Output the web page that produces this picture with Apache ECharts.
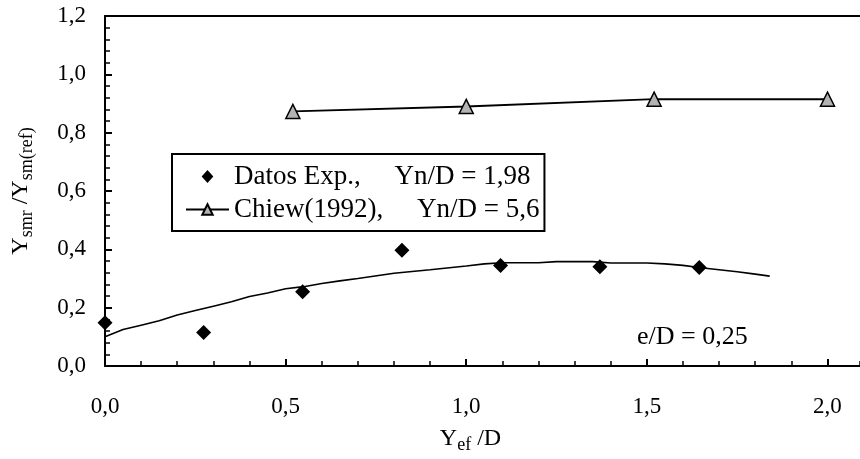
<!DOCTYPE html>
<html>
<head>
<meta charset="utf-8">
<script src="https://cdn.jsdelivr.net/npm/echarts@6/dist/echarts.min.js"></script>
<style>
  html, body { margin: 0; padding: 0; background: #fff; }
  #chart { width: 860px; height: 459px; }
</style>
</head>
<body>
<div id="chart"></div>
<script>
// datos experimentales (rombos)
const expX = [0, 0.273, 0.547, 0.822, 1.095, 1.370, 1.645];
const expY = [0.148, 0.115, 0.255, 0.397, 0.345, 0.340, 0.338];
// Chiew (1992) (triangulos)
const chiewX = [0.52, 1.0, 1.52, 2.0];
const chiewY = [0.873, 0.89, 0.915, 0.915];
// curva de ajuste
const curveX = [0, 0.05, 0.1, 0.15, 0.2, 0.25, 0.3, 0.35, 0.4, 0.45, 0.5, 0.55, 0.6, 0.65, 0.7,
  0.8, 0.9, 1.0, 1.05, 1.1, 1.2, 1.25, 1.3, 1.35, 1.4, 1.5, 1.55, 1.6, 1.65, 1.7, 1.75, 1.8, 1.84];
const curveY = [0.10, 0.125, 0.14, 0.155, 0.175, 0.19, 0.205, 0.22, 0.238, 0.25, 0.265, 0.272, 0.283, 0.292, 0.30,
  0.318, 0.33, 0.343, 0.35, 0.354, 0.354, 0.358, 0.358, 0.358, 0.353, 0.353, 0.35, 0.345, 0.337, 0.33, 0.323, 0.315, 0.308];
const legendNames = ['Datos Exp.,     Yn/D = 1,98', 'Chiew(1992),     Yn/D = 5,6'];

const xMax = 2.09;
const font = "'Liberation Serif', 'Times New Roman', serif";
const comma = (v) => v.toFixed(1).replace('.', ',');
const zip = (xs, ys) => xs.map((x, i) => [x, ys[i]]);
// rombo pequeño centrado en un icono ancho (para que no se estire en la leyenda)
const diamondIcon = 'path://M0,5L0.01,5ZM16,0L20.5,5L16,10L11.5,5ZM32,5L31.99,5Z';

const chart = echarts.init(document.getElementById('chart'));
chart.setOption({
  animation: false,
  backgroundColor: '#fff',
  textStyle: { fontFamily: font, color: '#000' },
  grid: { left: 105, top: 16, right: -3, bottom: 90 },
  legend: {
    orient: 'vertical',
    left: 172,
    top: 154,
    padding: [9, 5, 8, 13],
    itemGap: 6,
    itemWidth: 43,
    itemHeight: 13,
    borderColor: '#000',
    borderWidth: 2,
    textStyle: { fontFamily: font, fontSize: 27, color: '#000' },
    data: [{ name: legendNames[0], icon: diamondIcon }, { name: legendNames[1] }]
  },
  xAxis: [
    {
      type: 'value', position: 'bottom', min: 0, max: xMax, interval: 0.5,
      name: 'Y{s|ef} /D', nameLocation: 'middle', nameGap: 58,
      nameTextStyle: {
        fontFamily: font, fontSize: 24, color: '#000', padding: [0, 24, 0, 0],
        rich: { s: { fontFamily: font, fontSize: 18, color: '#000', padding: [12, 0, 0, 0] } }
      },
      axisLine: { lineStyle: { color: '#000', width: 2 } },
      axisTick: { inside: true, length: 7, lineStyle: { color: '#000', width: 2 } },
      axisLabel: { fontSize: 23, color: '#000', margin: 29, showMaxLabel: false, formatter: comma },
      splitLine: { show: false }
    },
    {
      type: 'value', position: 'bottom', min: 0, max: xMax, interval: 0.1,
      axisLine: { show: false },
      axisTick: { inside: true, length: 5, lineStyle: { color: '#000', width: 1.5 } },
      axisLabel: { show: false },
      splitLine: { show: false }
    },
    {
      type: 'value', position: 'top', min: 0, max: xMax,
      axisLine: { lineStyle: { color: '#000', width: 2 } },
      axisTick: { show: false },
      axisLabel: { show: false },
      splitLine: { show: false }
    }
  ],
  yAxis: {
    type: 'value', min: 0, max: 1.2, interval: 0.2,
    name: 'Y{s|smr} /Y{s|sm(ref)}', nameLocation: 'middle', nameGap: 69, nameRotate: 90,
    nameTextStyle: {
      fontFamily: font, fontSize: 24, color: '#000',
      rich: { s: { fontFamily: font, fontSize: 18, color: '#000', padding: [12, 0, 0, 0] } }
    },
    axisLine: { show: true, lineStyle: { color: '#000', width: 2 } },
    axisTick: { inside: true, length: 7, lineStyle: { color: '#000', width: 2 } },
    minorTick: { show: true, splitNumber: 5, length: 5, lineStyle: { color: '#000', width: 1.5 } },
    axisLabel: { fontSize: 23, color: '#000', margin: 19, formatter: comma },
    splitLine: { show: false }
  },
  graphic: [
    {
      type: 'text', left: 637, top: 324,
      style: { text: 'e/D = 0,25', font: '26px ' + font, fill: '#000' }
    }
  ],
  series: [
    {
      name: 'curva', type: 'line', xAxisIndex: 0, data: zip(curveX, curveY),
      showSymbol: false, symbol: 'none',
      lineStyle: { color: '#000', width: 1.6 }, z: 2
    },
    {
      name: legendNames[0], type: 'scatter', xAxisIndex: 0, data: zip(expX, expY),
      symbol: 'diamond', symbolSize: 15,
      itemStyle: { color: '#000', opacity: 1 }, z: 3
    },
    {
      name: legendNames[1], type: 'line', xAxisIndex: 0, data: zip(chiewX, chiewY),
      symbol: 'triangle', symbolSize: 14, showAllSymbol: true,
      lineStyle: { color: '#000', width: 2 },
      itemStyle: { color: '#b3b3b3', borderColor: '#000', borderWidth: 1.5 }, z: 4
    }
  ]
});
</script>
</body>
</html>
